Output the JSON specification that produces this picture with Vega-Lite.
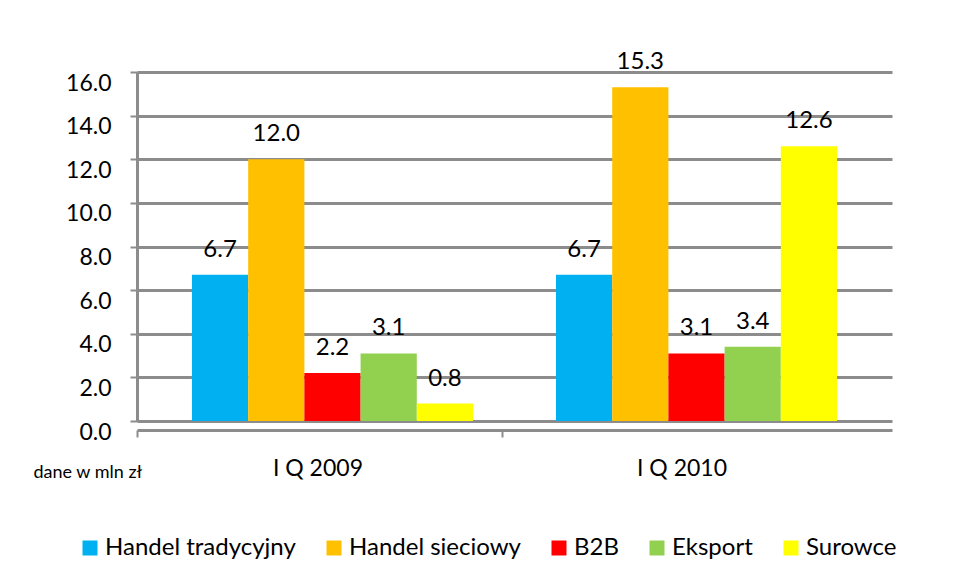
{
  "$schema": "https://vega.github.io/schema/vega-lite/v6.json",
  "width": 755,
  "height": 349,
  "autosize": {"type": "none"},
  "padding": {"left": 137, "top": 72, "right": 64, "bottom": 159},
  "background": "white",
  "config": {
    "view": {"stroke": null},
    "font": "Lato",
    "text": {"font": "Lato"}
  },
  "data": {
    "values": [
      {"okres": "I Q 2009", "seria": "Handel tradycyjny", "wartosc": 6.7},
      {"okres": "I Q 2009", "seria": "Handel sieciowy", "wartosc": 12.0},
      {"okres": "I Q 2009", "seria": "B2B", "wartosc": 2.2},
      {"okres": "I Q 2009", "seria": "Eksport", "wartosc": 3.1},
      {"okres": "I Q 2009", "seria": "Surowce", "wartosc": 0.8},
      {"okres": "I Q 2010", "seria": "Handel tradycyjny", "wartosc": 6.7},
      {"okres": "I Q 2010", "seria": "Handel sieciowy", "wartosc": 15.3},
      {"okres": "I Q 2010", "seria": "B2B", "wartosc": 3.1},
      {"okres": "I Q 2010", "seria": "Eksport", "wartosc": 3.4},
      {"okres": "I Q 2010", "seria": "Surowce", "wartosc": 12.6}
    ]
  },
  "encoding": {
    "x": {
      "field": "okres",
      "type": "nominal",
      "scale": {"paddingInner": 0.228, "paddingOuter": 0.151},
      "axis": {
        "title": "dane w mln zł",
        "titleFontSize": 18,
        "titleFontWeight": "normal",
        "titleColor": "black",
        "titleAnchor": "start",
        "titleAlign": "left",
        "titleBaseline": "middle",
        "titleX": -104,
        "titleY": 42,
        "labelAngle": 0,
        "labelFontSize": 23,
        "labelColor": "black",
        "labelPadding": 20,
        "labelOffset": 180,
        "offset": 9,
        "domainColor": "#8c8c8c",
        "domainWidth": 3,
        "tickColor": "#8c8c8c",
        "tickWidth": 2,
        "tickSize": 7,
        "tickOffset": -195,
        "grid": false
      }
    },
    "xOffset": {
      "field": "seria",
      "type": "nominal",
      "sort": ["Handel tradycyjny", "Handel sieciowy", "B2B", "Eksport", "Surowce"],
      "scale": {"paddingInner": 0, "paddingOuter": 0}
    },
    "y": {
      "field": "wartosc",
      "type": "quantitative",
      "scale": {"domain": [0, 16], "nice": false},
      "axis": {
        "title": null,
        "values": [0, 2, 4, 6, 8, 10, 12, 14, 16],
        "format": ".1f",
        "labelFontSize": 23,
        "labelColor": "black",
        "labelPadding": 19,
        "labelOffset": 11,
        "domainColor": "#8c8c8c",
        "domainWidth": 3,
        "tickColor": "#8c8c8c",
        "tickWidth": 2,
        "tickSize": 7,
        "gridColor": "#8c8c8c",
        "gridWidth": 3
      }
    }
  },
  "layer": [
    {
      "mark": {"type": "bar"},
      "encoding": {
        "color": {
          "field": "seria",
          "type": "nominal",
          "sort": ["Handel tradycyjny", "Handel sieciowy", "B2B", "Eksport", "Surowce"],
          "scale": {
            "domain": ["Handel tradycyjny", "Handel sieciowy", "B2B", "Eksport", "Surowce"],
            "range": ["#00B0F0", "#FFC000", "#FF0000", "#92D050", "#FFFF00"]
          },
          "legend": {
            "title": null,
            "orient": "none",
            "direction": "horizontal",
            "legendX": -59,
            "legendY": 464,
            "symbolType": "square",
            "symbolSize": 225,
            "symbolStrokeWidth": 0,
            "symbolOpacity": 1,
            "labelFontSize": 24,
            "labelColor": "black",
            "labelOffset": 3,
            "columnPadding": 26,
            "labelLimit": 400
          }
        }
      }
    },
    {
      "mark": {"type": "text", "baseline": "alphabetic", "dy": -18, "fontSize": 24, "color": "black"},
      "encoding": {
        "text": {"field": "wartosc", "type": "quantitative", "format": ".1f"}
      }
    }
  ]
}
